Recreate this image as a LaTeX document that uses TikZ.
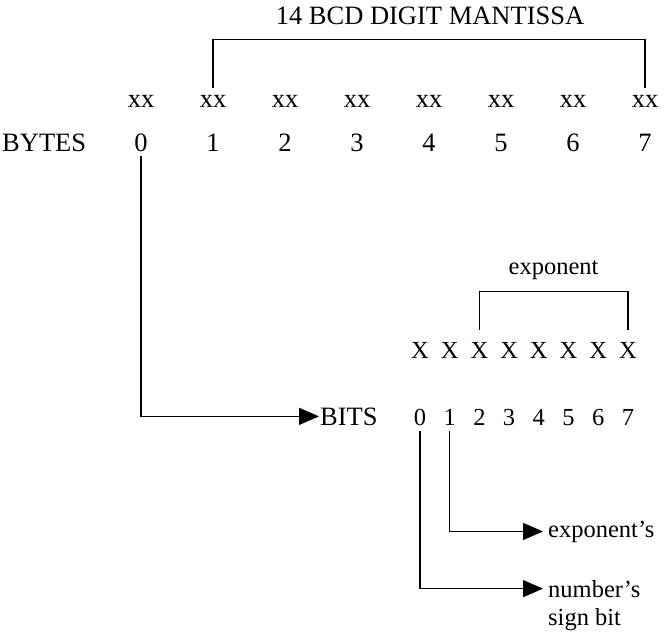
\documentclass[tikz,border=0pt]{standalone}
\usepackage{fontspec}
\setmainfont{Liberation Serif}
\usetikzlibrary{arrows.meta}
\tikzset{
  big/.style={inner sep=0pt, anchor=base, font=\fontsize{26.5}{30}\selectfont},
  small/.style={inner sep=0pt, anchor=base, font=\fontsize{24.5}{29}\selectfont},
  brk/.style={line width=1.4pt},
  arr/.style={line width=1.4pt, -{Triangle[length=20pt,width=17pt]}},
}
\begin{document}
\begin{tikzpicture}[x=1pt,y=-1pt]
\useasboundingbox (0,0) rectangle (666,633);
% title
\node[big] (title) at (430,24) {14 BCD DIGIT MANTISSA};
% bytes
\node[big, anchor=base west] (bytes) at (2,151) {BYTES};
\foreach \i in {0,...,7} {
  \node[big] (xx\i) at ({141+72*\i},107) {xx};
  \node[big] (d\i) at ({141+72*\i},151) {\i};
}
\draw[brk] ([yshift=7pt]xx1.north) -- ++(0,-48) -| ([yshift=7pt]xx7.north);
% bits
\node[big, anchor=base west] (bits) at (320,425) {BITS};
\foreach \i in {0,...,7} {
  \node[small] (X\i) at ({420+29.7*\i},358) {X};
  \node[small] (b\i) at ({420+29.7*\i},425) {\i};
}
\node[small] (expo) at (553.6,274) {exponent};
\draw[brk] ([yshift=12pt]X2.north) -- ++(0,-38) -| ([yshift=12pt]X7.north);
% labels
\node[small, anchor=base west] (exps) at (548,537) {exponent's};
\node[small, anchor=base west] (num) at (548,597) {number's};
\node[small, anchor=base west] (sign) at (548,625) {sign bit};
% arrows
\draw[arr] ([yshift=-5pt]d0.south) |- ([xshift=-1pt]bits.west);
\draw[arr] ([yshift=-6pt]b1.south) |- ([xshift=-5pt]exps.west);
\draw[arr] ([yshift=-6pt]b0.south) |- ([xshift=-5pt]num.west);
\end{tikzpicture}
\end{document}
